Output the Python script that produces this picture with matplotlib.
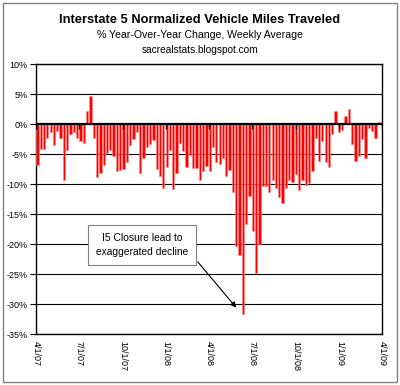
import matplotlib
matplotlib.use("Agg")
import matplotlib.pyplot as plt
import matplotlib.dates as mdates
from matplotlib.patches import Rectangle
import pandas as pd

# ---- data ----
start_week = "2007-04-04"
yoy_change = [
    -6.8, -4.1, -4.2, -2.3, -1.3, -3.5, -1.1, -2.4, -9.3, -4.4,
    -1.6, -1.3, -2.4, -2.9, -3.1, 2.1, 4.6, -2.4, -8.9, -8.2,
    -6.8, -4.9, -4.3, -5.3, -7.9, -7.7, -7.5, -6.4, -3.5, -2.5,
    -1.4, -8.1, -5.7, -3.8, -3.3, -2.7, -7.5, -8.7, -10.6, -7.1,
    -4.3, -10.8, -8.2, -3.2, -4.5, -7.2, -5.2, -7.4, -7.4, -9.4,
    -7.9, -7.0, -7.8, -3.8, -6.4, -6.6, -5.7, -8.7, -7.6, -11.4,
    -20.3, -21.8, -31.7, -16.6, -12.0, -17.9, -24.9, -20.0, -10.4, -10.4,
    -11.4, -9.3, -10.6, -12.2, -13.2, -10.7, -9.4, -9.7, -8.4, -11.0,
    -9.3, -10.2, -9.9, -7.8, -2.4, -6.2, -2.8, -6.4, -7.2, -1.6,
    2.1, -1.4, -1.0, 1.4, 2.5, -3.3, -6.1, -5.3, -2.5, -5.6,
    -0.7, -1.2, -2.4, 0.3,
]
tick_dates = ["2007-04-01", "2007-07-01", "2007-10-01", "2008-01-01", "2008-04-01",
              "2008-07-01", "2008-10-01", "2009-01-01", "2009-04-01"]
tick_labels = ["4/1/07", "7/1/07", "10/1/07", "1/1/08", "4/1/08",
               "7/1/08", "10/1/08", "1/1/09", "4/1/09"]
y_ticks = [10, 5, 0, -5, -10, -15, -20, -25, -30, -35]

title = "Interstate 5 Normalized Vehicle Miles Traveled"
subtitle1 = "% Year-Over-Year Change, Weekly Average"
subtitle2 = "sacrealstats.blogspot.com"
note = "I5 Closure lead to\nexaggerated decline"

# ---- figure ----
plt.rcParams['font.family'] = ['Liberation Sans', 'DejaVu Sans']
fig = plt.figure(figsize=(4.0, 3.85), dpi=100)
fig.patch.set_facecolor('white')
fig.add_artist(Rectangle((3/400, 3/385), 394/400, 379/385, transform=fig.transFigure,
                         fill=False, ec='#808080', lw=1.0))

ax = fig.add_axes([36/400, 1-334/385, 346/400, 270/385])

weeks = pd.date_range(start_week, periods=len(yoy_change), freq="7D")
ax.bar(weeks, yoy_change, width=4.8, color='#ff0000', edgecolor='#ff8c8c',
       linewidth=0.4, zorder=3)

xt = pd.to_datetime(tick_dates)
ax.set_xlim(xt[0], xt[-1])
ax.set_ylim(-35, 10)
ax.set_yticks(y_ticks)
ax.set_yticklabels([f"{v}%" for v in y_ticks], fontsize=6.5)
ax.yaxis.grid(True, color='black', lw=0.8, zorder=1)
ax.set_axisbelow(True)
ax.tick_params(axis='y', direction='out', length=4, width=0.8, pad=2)

ax.set_xticks(xt)
ax.set_xticklabels(tick_labels, rotation=-90, fontsize=6.5)
ax.tick_params(axis='x', length=0, pad=5)

# zero axis with tick marks
ax.axhline(0, color='black', lw=1.6, zorder=4)
ax.vlines(xt, -0.8, 0, color='black', lw=1.0, zorder=4)

for s in ax.spines.values():
    s.set_color('black')
    s.set_linewidth(1.0)

# titles
fig.text(0.5, 1-20/385, title, ha='center', va='center', fontsize=9.3, fontweight='bold')
fig.text(0.5, 1-35/385, subtitle1, ha='center', va='center', fontsize=7.6)
fig.text(0.5, 1-50/385, subtitle2, ha='center', va='center', fontsize=7.3)

# annotation
ax.text(pd.Timestamp("2007-11-11"), -20.2, note, ha='center', va='center',
        fontsize=7.4, linespacing=1.5, zorder=6,
        bbox=dict(boxstyle='square,pad=0.75', fc='white', ec='#808080', lw=0.8))
ax.annotate("", xy=(pd.Timestamp("2008-05-28"), -30.6),
            xytext=(pd.Timestamp("2008-03-08"), -23.0),
            arrowprops=dict(arrowstyle='-|>', color='black', lw=0.8,
                            mutation_scale=8, shrinkA=0, shrinkB=0), zorder=6)

fig.savefig("out.png", dpi=100)
